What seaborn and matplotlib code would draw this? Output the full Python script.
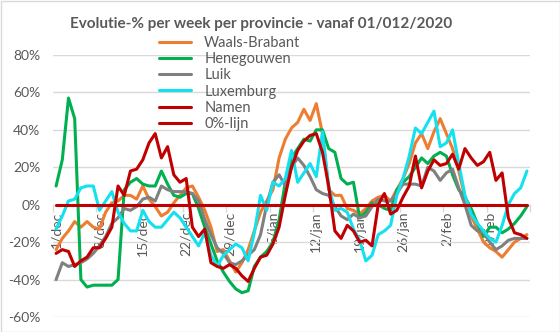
import matplotlib
matplotlib.use("Agg")
import matplotlib.pyplot as plt
import matplotlib.ticker as mticker
from matplotlib.lines import Line2D
from matplotlib.patches import Rectangle
import pandas as pd
import seaborn as sns

# Daily evolution (%) per week, starting 1 December 2020
dagen = list(range(77))

waals_brabant = [
    -24, -18, -14, -9, -12, -9, -12, -13, -4, 1,
    2, 5, 5, 3, 10, 3, -1, -6, -4, 1,
    5, 9, 10, 4, -3, -12, -25, -24, -30, -36,
    -31, -24, -14, -4, 2, 8, 25, 35, 41, 44,
    51, 45, 54, 38, 8, 5, 5, -2, -3, -5,
    -2, 2, 4, 5, 2, 8, 14, 22, 33, 38,
    30, 39, 46, 38, 30, 18, 4, -6, -13, -20,
    -23, -25, -28, -24, -20, -18, -16]

henegouwen = [
    10, 24, 57, 46, -40, -44, -43, -43, -43, -43,
    -40, 8, 12, 14, 11, 10, 10, 18, 11, 5,
    4, 6, 6, -2, -12, -21, -30, -36, -41, -45,
    -47, -46, -33, -28, -25, -20, -8, 12, 25, 30,
    35, 34, 40, 40, 30, 28, 14, 11, 12, -7,
    -4, 1, 0, -2, -3, 8, 12, 15, 20, 25,
    22, 26, 28, 26, 16, 8, 4, -2, -10, -17,
    -12, -12, -15, -13, -10, -6, -1]

luik = [
    -40, -31, -33, -32, -31, -29, -26, -22, -17, -10,
    -7, -2, -3, -1, 3, 4, 2, 10, 8, 7,
    7, 7, 6, 2, -8, -16, -23, -26, -31, -32,
    -30, -27, -24, -16, 0, 12, 16, 10, 20, 25,
    21, 15, 8, 6, 5, -1, -6, -8, -5, -7,
    -6, -1, 3, 2, 2, 6, 11, 11, 11, 10,
    20, 18, 13, 17, 19, 9, 0, -11, -14, -15,
    -20, -24, -22, -19, -18, -18, -18]

luxemburg = [
    -13, -6, 2, 3, 9, 10, 10, -3, 2, 7,
    -4, -10, -14, -14, -3, -9, -12, -12, -8, -4,
    -7, -12, -17, -22, -15, -27, -33, -27, -24, -21,
    -23, -30, -15, 5, -3, 12, 10, 14, 29, 12,
    17, 22, 15, 39, 10, -3, -2, -4, -13, -19,
    -30, -27, -16, -14, -11, 5, 14, 26, 41, 38,
    44, 50, 31, 33, 40, 22, 5, -5, -10, -14,
    -18, -20, -11, 0, 6, 9, 18]

namen = [
    -26, -24, -25, -33, -30, -28, -23, -23, -18, -12,
    10, 5, 18, 19, 24, 33, 38, 25, 31, 16,
    12, 14, -12, -17, -13, -31, -33, -34, -32, -34,
    -38, -41, -34, -28, -27, -21, -12, 5, 20, 29,
    34, 37, 38, 28, 10, -14, -18, -11, -14, -20,
    -19, -22, 0, 6, -5, -3, 4, 10, 26, 9,
    18, 24, 21, 22, 27, 19, 30, 25, 21, 23,
    28, 13, 17, -7, -15, -16, -18]

nul_lijn = [0] * len(dagen)

reeksen = ["Waals-Brabant", "Henegouwen", "Luik", "Luxemburg", "Namen", "0%-lijn"]
kleuren = ["#ED7D31", "#00B050", "#808080", "#14E1F0", "#C00000", "#C00000"]

week_labels = ["1/dec", "8/dec", "15/dec", "22/dec", "29/dec", "5/jan",
               "12/jan", "19/jan", "26/jan", "2/feb", "9/feb"]

titel = "Evolutie-% per week per provincie - vanaf 01/012/2020"

waarden = [waals_brabant, henegouwen, luik, luxemburg, namen, nul_lijn]
df = pd.concat(
    [pd.DataFrame({"dag": dagen, "pct": v, "provincie": naam})
     for naam, v in zip(reeksen, waarden)],
    ignore_index=True)

sns.set_theme(style="white")
plt.rcParams["font.family"] = ["Lato", "DejaVu Sans"]
plt.rcParams["axes.unicode_minus"] = False

tekst = "#595959"
raster = "#D9D9D9"

fig = plt.figure(figsize=(5.6, 3.32), dpi=100)
ax = fig.add_axes([53 / 560, 1 - 317 / 332, 477 / 560, 262 / 332])

sns.lineplot(data=df, x="dag", y="pct", hue="provincie", hue_order=reeksen,
             palette=dict(zip(reeksen, kleuren)), linewidth=2.2,
             legend=False, ax=ax)

ax.set_xlim(-0.5, 76.5)
ax.set_ylim(-60, 80)
ax.set_yticks(range(-60, 81, 20))
ax.yaxis.set_major_formatter(mticker.PercentFormatter(decimals=0))
ax.yaxis.grid(True, color=raster, linewidth=1)
ax.xaxis.grid(False)
ax.set_axisbelow(True)

for s in ("left", "right", "top"):
    ax.spines[s].set_visible(False)
ax.spines["bottom"].set_position(("data", 0))
ax.spines["bottom"].set_color(raster)
ax.spines["bottom"].set_linewidth(1)
ax.spines["bottom"].set_zorder(0.5)

ax.set_xticks(dagen[::7])
ax.set_xticklabels(week_labels)
ax.set_xticks([d - 0.5 for d in range(0, 78, 7)], minor=True)
ax.tick_params(axis="x", which="major", length=0, pad=5, labelrotation=90,
               labelsize=10, labelcolor=tekst)
ax.tick_params(axis="x", which="minor", length=5, width=1, color=raster,
               direction="out", bottom=True)
ax.tick_params(axis="y", length=0, pad=9, labelsize=10, labelcolor=tekst)
ax.set_xlabel("")
ax.set_ylabel("")

handles = [Line2D([], [], color=c, linewidth=2.2) for c in kleuren]
fig.legend(handles, reeksen, loc="upper left",
           bbox_to_anchor=(159 / 560, 1 - 36 / 332), frameon=False,
           fontsize=10.5, labelcolor=tekst, handlelength=2.2,
           handletextpad=0.9, labelspacing=0.15, borderpad=0,
           borderaxespad=0)

fig.text(0.466, 1 - 24 / 332, titel, ha="center", va="center",
         fontsize=11, fontweight="bold", color=tekst)

fig.patches.append(Rectangle((0.5 / 560, 0.5 / 332), 1 - 1 / 560, 1 - 1 / 332,
                             transform=fig.transFigure, fill=False,
                             edgecolor=raster, linewidth=1))

fig.savefig("out.png", dpi=100)
